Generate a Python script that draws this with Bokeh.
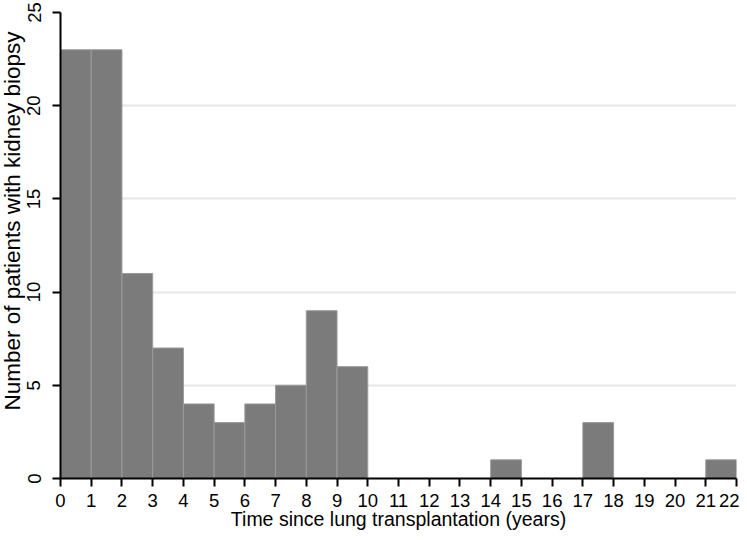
from bokeh.plotting import figure
from bokeh.models import Range1d, FixedTicker, Title
from bokeh.embed import file_html
from bokeh.resources import INLINE

# Data
bin_edges = list(range(0, 23))
counts = [23, 23, 11, 7, 4, 3, 4, 5, 9, 6, 0, 0, 0, 0, 1, 0, 0, 3, 0, 0, 0, 1]
x_ticks = list(range(0, 23))
y_ticks = [0, 5, 10, 15, 20, 25]
x_title = "Time since lung transplantation (years)"
y_title = "Number of patients with kidney biopsy"

left = [bin_edges[i] for i in range(len(counts)) if counts[i] > 0]
right = [bin_edges[i + 1] for i in range(len(counts)) if counts[i] > 0]
top = [c for c in counts if c > 0]

p = figure(width=739, height=532, output_backend="svg", toolbar_location=None,
           x_range=Range1d(0, 22), y_range=Range1d(0, 25),
           min_border_left=60, min_border_right=3, min_border_top=12, min_border_bottom=54)

p.quad(left=left, right=right, bottom=0, top=top,
       fill_color="#7b7b7b", line_color="#9a9a9a", line_width=1)

p.outline_line_color = None
p.background_fill_color = "white"

font = "Liberation Sans"
p.xaxis.ticker = FixedTicker(ticks=x_ticks)
p.yaxis.ticker = FixedTicker(ticks=y_ticks)
p.xaxis.axis_label = x_title
for ax in (p.xaxis, p.yaxis):
    ax.axis_label_text_font = font
    ax.axis_label_text_font_style = "normal"
    ax.axis_label_text_font_size = "19.5px"
    ax.axis_label_text_color = "black"
    ax.major_label_text_font = font
    ax.major_label_text_color = "black"
    ax.axis_line_color = "black"
    ax.axis_line_width = 2
    ax.major_tick_line_color = "black"
    ax.major_tick_line_width = 2
    ax.major_tick_out = 8
    ax.major_tick_in = 0
    ax.minor_tick_line_color = None
p.xaxis.major_label_text_font_size = "18.5px"
p.yaxis.major_label_text_font_size = "18.5px"
p.yaxis.major_label_orientation = "vertical"
p.yaxis.major_label_standoff = 12
p.xaxis.major_label_standoff = 7
p.xaxis.axis_label_standoff = -2

# y-axis title, placed off-centre as in the original
p.add_layout(Title(text=y_title, align="left", offset=68, standoff=-4,
                   vertical_align="top",
                   text_font=font, text_font_size="22.5px", text_font_style="normal",
                   text_color="black"), "left")

p.xgrid.grid_line_color = None
p.ygrid.ticker = FixedTicker(ticks=[5, 10, 15, 20, 25])
p.ygrid.grid_line_color = "#e6e6e6"
p.ygrid.grid_line_width = 2

open("out.html", "w").write(file_html(p, INLINE))
